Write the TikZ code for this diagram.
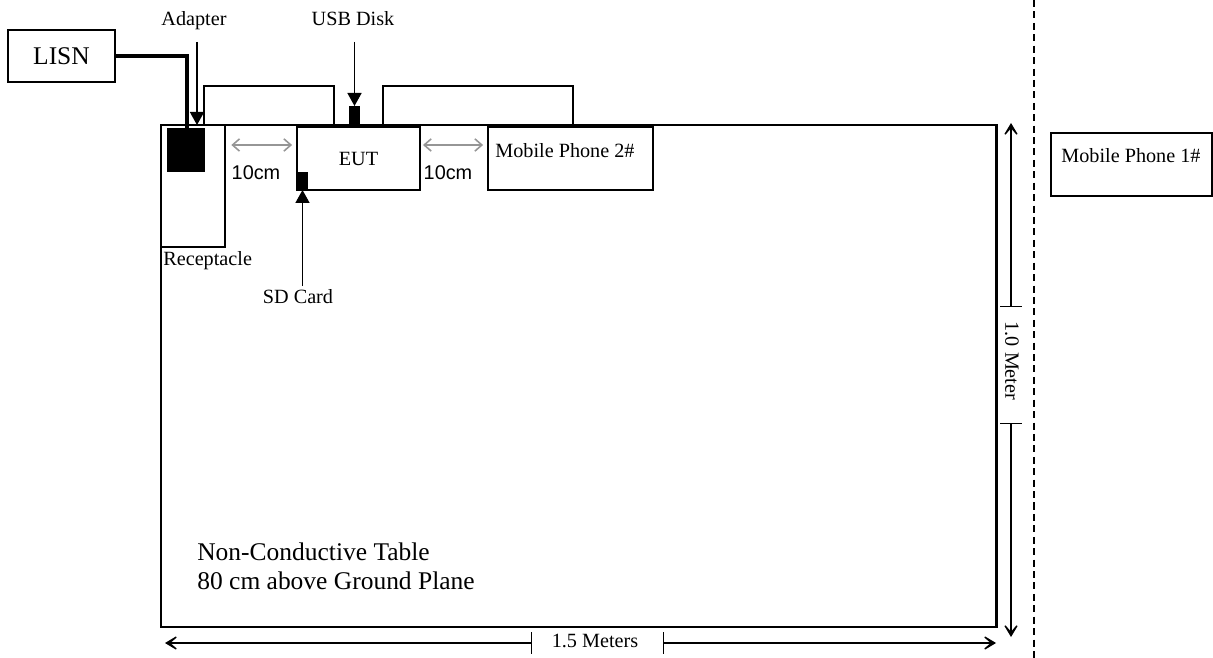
\documentclass[tikz,border=0pt]{standalone}
\usepackage{fontspec}
\setmainfont{Liberation Serif}
\setsansfont{Liberation Sans}
\usetikzlibrary{arrows.meta}
\usetikzlibrary{calc}
\usetikzlibrary{positioning}
\newcommand{\pxu}{0.02cm}
\definecolor{gapgray}{RGB}{150,150,150}

\begin{document}
\begin{tikzpicture}[x=0.02cm, y=-0.02cm,
    box/.style={draw, line width=1.1pt, inner sep=0pt, outer sep=0pt},
    block/.style={fill=black, inner sep=0pt, outer sep=0pt},
    lbl/.style={inner sep=0pt, font=\fontsize{11.5}{13}\selectfont},
    biglbl/.style={inner sep=0pt, font=\fontsize{14.5}{17}\selectfont},
    cmlbl/.style={inner sep=0pt, font=\sffamily\fontsize{11.3}{13}\selectfont},
    cable/.style={line width=0.75pt},
    pointer/.style={line width=0.75pt, -{Triangle[length=7.4pt, width=8pt]}},
    gap/.style={gapgray, line width=0.9pt, {Straight Barb[length=4pt, width=7pt]}-{Straight Barb[length=4pt, width=7pt]}},
    dim/.style={line width=0.8pt, {Bar[width=12pt]}-{Stealth[length=10pt, width=12pt, inset=7pt]}}]
        \useasboundingbox (0,0) rectangle (1213,658);

        % Table
        \node[box, line width=1.7pt, minimum width=835*\pxu, minimum height=502*\pxu] (table) at (578.5,376) {};
        \node[biglbl, anchor=north west, align=left] (tablelbl) at (197,542) {Non-Conductive Table\\80 cm above Ground Plane};

        % LISN
        \node[box, biglbl, minimum width=107*\pxu, minimum height=52*\pxu] (lisn) at (61.5,56) {LISN};

        % Receptacle and adapter
        \node[box, line width=0.85pt, minimum width=64*\pxu, minimum height=122*\pxu] (receptacle) at (193,186) {};
        \node[block, minimum width=38*\pxu, minimum height=44*\pxu] (adapter) at (186,150) {};
        \node[lbl, anchor=base west] (receptaclelbl) at (163,266) {Receptacle};
        \node[lbl, anchor=base] (adapterlbl) at (194,26) {Adapter};

        % EUT with SD card and USB disk
        \node[box, lbl, line width=1pt, minimum width=123*\pxu, minimum height=63*\pxu] (eut) at (358.5,158.5) {EUT};
        \node[block, minimum width=11*\pxu, minimum height=18*\pxu] (sd) at (302.5,181) {};
        \node[block, minimum width=11*\pxu, minimum height=19*\pxu] (usb) at (354.5,115.5) {};
        \node[lbl, anchor=base] (sdlbl) at (298,304) {SD Card};
        \node[lbl, anchor=base] (usblbl) at (353,26) {USB Disk};

        % Mobile phones
        \node[box, line width=1pt, minimum width=165*\pxu, minimum height=63*\pxu] (phonetwo) at (570.5,158.5) {};
        \node[lbl, anchor=base west] (phonetwolbl) at ($(phonetwo.north west)+(7,31)$) {Mobile Phone 2\#};
        \node[box, line width=1pt, minimum width=161*\pxu, minimum height=63*\pxu] (phoneone) at (1131.5,164.5) {};
        \node[lbl, anchor=base west] (phoneonelbl) at ($(phoneone.north west)+(10,30)$) {Mobile Phone 1\#};

        % Cables
        \coordinate (plug) at (187,128);
        \coordinate (loopaA) at (204,125);
        \coordinate (loopaB) at (334,125);
        \coordinate (loopbA) at (383,125);
        \coordinate (loopbB) at (573,125);
        \draw[line width=2.3pt] (lisn.east) -| (plug);
        \draw[cable] (loopaA) -- ++(0,-39) -| (loopaB);
        \draw[cable] (loopbA) -- ++(0,-39) -| (loopbB);

        % Pointers
        \coordinate (pointtop) at (0,42);
        \coordinate (adapterin) at (197,125);
        \draw[pointer] (adapterin |- pointtop) -- (adapterin);
        \draw[pointer] (usb.north |- pointtop) -- (usb.north);
        \draw[pointer, shorten <=2pt] (sd.south |- sdlbl.north) -- (sd.south);

        % 10cm gaps
        \coordinate (gapline) at (0,145);
        \draw[gap, shorten <=3.6pt, shorten >=2.8pt] (receptacle.east |- gapline) -- (eut.west |- gapline);
        \draw[gap, shorten <=1.7pt, shorten >=2.8pt] (eut.east |- gapline) -- (phonetwo.west |- gapline);
        \node[cmlbl, anchor=base] (gapalbl) at (256,180) {10cm};
        \node[cmlbl, anchor=base] (gapblbl) at (448,180) {10cm};

        % 1.0 Meter
        \node[lbl, rotate=-90] (heightlbl) at (1012,361) {1.0 Meter};
        \coordinate (heighttop) at (1011,123);
        \coordinate (heightbot) at (1011,637);
        \coordinate (heighttickA) at (1011,307);
        \coordinate (heighttickB) at (1011,423);
        \draw[dim] (heighttickA) -- (heighttop);
        \draw[dim] (heighttickB) -- (heightbot);

        % 1.5 Meters
        \node[lbl] (widthlbl) at (595,641) {1.5 Meters};
        \coordinate (widthleft) at (165,643);
        \coordinate (widthright) at (996,643);
        \coordinate (widthtickA) at (532,643);
        \coordinate (widthtickB) at (663,643);
        \draw[dim] (widthtickA) -- (widthleft);
        \draw[dim] (widthtickB) -- (widthright);

        % Boundary
        \coordinate (fencetop) at (1034,0);
        \coordinate (fencebot) at (1034,658);
        \draw[line width=0.8pt, dash pattern=on 4pt off 2.5pt] (fencetop) -- (fencebot);

    \end{tikzpicture}
\end{document}
